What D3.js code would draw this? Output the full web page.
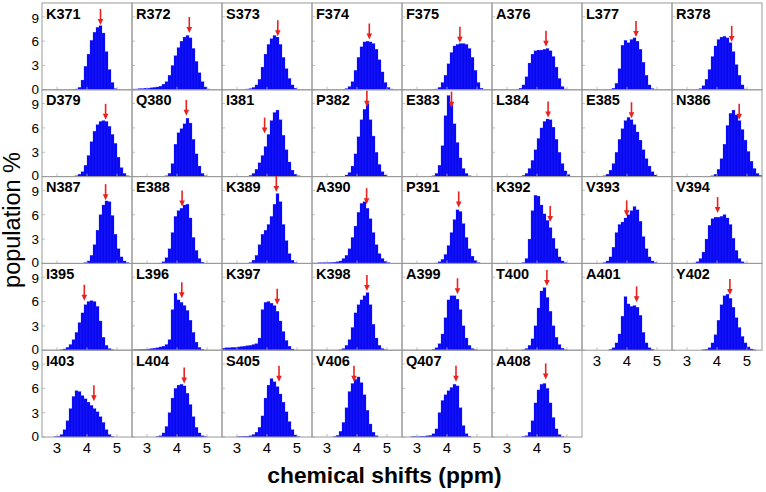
<!DOCTYPE html>
<html><head><meta charset="utf-8">
<script src="https://cdn.jsdelivr.net/npm/d3@7"></script>
<style>body{margin:0;background:#fff;}svg{display:block;}</style>
</head><body>
<svg id="chart" width="766" height="492"></svg>
<script>
const residues = ["K371","R372","S373","F374","F375","A376","L377","R378",
  "D379","Q380","I381","P382","E383","L384","E385","N386",
  "N387","E388","K389","A390","P391","K392","V393","V394",
  "I395","L396","K397","K398","A399","T400","A401","Y402",
  "I403","L404","S405","V406","Q407","A408"];
const arrowShift = [4.45,4.41,4.36,4.41,4.43,4.30,4.30,4.49,
  4.62,4.31,3.92,4.33,4.15,4.37,4.15,4.74,
  4.62,4.17,4.31,4.32,4.39,4.44,3.99,4.02,
  3.91,4.16,4.34,4.33,4.35,4.33,4.32,4.43,
  4.23,4.24,4.40,3.90,4.30,4.29];
const arrowPop = [8.0,7.0,6.6,6.2,5.8,5.3,6.5,5.9,
  7.0,7.5,5.3,8.6,8.5,7.3,7.2,7.0,
  7.8,7.0,8.8,7.3,6.9,5.1,5.8,6.2,
  6.1,6.4,5.6,7.3,6.9,7.9,5.9,6.8,
  4.4,6.6,6.8,6.8,6.8,7.1];
const binStart = [3.55,2.55,3.25,3.55,3.55,3.35,3.45,3.35,
  3.65,3.65,3.35,3.65,3.55,3.45,3.25,3.85,
  3.95,3.45,3.45,2.55,3.65,3.55,3.25,3.25,
  3.15,2.55,2.55,3.45,3.55,3.55,3.45,3.55,
  2.95,3.35,3.05,3.25,2.85,3.55];
const populations = [
  [0.05,0.1,0.3,1.2,2.9,4.4,6.1,7.1,7.7,7.9,7.0,4.7,2.5,0.9,0.15,0.05],
  [0.1,0.1,0.15,0.15,0.2,0.2,0.25,0.3,0.35,0.45,0.7,1.0,1.8,3.0,4.2,5.2,6.0,6.5,6.7,6.4,5.1,3.5,2.1,1.0,0.35,0.1],
  [0.05,0.1,0.15,0.3,0.6,1.3,2.8,4.4,5.6,6.3,6.7,6.5,5.6,4.0,2.6,1.4,0.6,0.2,0.05],
  [0.05,0.15,0.4,1.0,2.4,4.0,5.3,5.9,6.0,5.9,5.7,5.0,3.7,2.2,0.9,0.3,0.1],
  [0.05,0.1,0.3,0.9,1.8,3.2,4.6,5.4,5.6,5.7,5.7,5.6,5.1,4.0,2.4,0.9,0.2],
  [0.05,0.2,0.6,1.6,3.3,4.4,4.8,4.9,4.9,5.0,5.1,4.8,4.1,2.8,1.4,0.4,0.1],
  [0.05,0.2,0.8,2.6,5.5,6.1,5.8,6.2,6.4,6.0,5.0,3.4,1.8,0.6,0.15],
  [0.05,0.15,0.5,1.3,2.5,4.1,5.4,6.2,6.5,6.6,6.4,5.8,4.7,3.1,1.8,0.6,0.1],
  [0.1,0.3,0.6,1.4,2.6,4.3,5.6,6.4,6.8,6.9,6.8,6.2,5.2,4.1,2.4,1.1,0.4,0.1],
  [0.1,0.4,1.6,4.0,5.4,5.9,6.5,7.2,6.6,4.6,2.8,1.3,0.4,0.1],
  [0.05,0.15,0.4,0.9,1.7,2.6,3.7,5.2,6.9,7.9,8.2,7.0,5.1,3.3,1.8,0.8,0.3,0.1],
  [0.2,0.5,1.3,2.8,4.9,7.0,8.3,9.0,7.0,5.0,3.0,1.5,0.6,0.2,0.05],
  [0.1,0.4,1.4,3.8,7.5,10.0,8.8,6.5,4.2,2.3,1.0,0.4,0.1],
  [0.05,0.15,0.4,1.0,2.0,3.3,4.7,6.0,6.8,7.1,7.0,6.1,4.6,3.0,1.6,0.7,0.25,0.05],
  [0.1,0.3,0.8,1.6,3.0,4.6,5.9,6.9,7.3,7.0,6.4,5.5,4.5,3.3,2.2,1.3,0.6,0.2,0.05],
  [0.1,0.3,0.9,2.2,4.0,6.3,7.8,8.2,7.6,6.9,5.8,4.5,3.1,1.9,1.0,0.4,0.15],
  [0.1,0.3,1.0,2.3,4.1,6.0,7.2,7.7,7.6,5.9,3.6,1.8,0.8,0.3,0.1],
  [0.05,0.2,0.7,1.8,3.8,5.8,6.5,6.8,7.2,7.3,5.6,3.2,1.6,0.6,0.15],
  [0.1,0.4,1.0,2.3,3.6,4.1,4.8,5.8,7.3,8.6,7.6,4.8,2.8,1.2,0.4,0.1],
  [0.05,0.05,0.08,0.08,0.1,0.1,0.12,0.15,0.2,0.3,0.6,1.0,1.8,3.2,4.6,6.3,7.4,7.6,6.8,5.5,3.8,2.3,1.2,0.6,0.25,0.1],
  [0.05,0.2,0.5,1.1,2.2,3.8,5.4,6.6,6.4,4.9,3.2,1.8,0.9,0.35,0.1],
  [0.1,0.6,3.0,6.5,8.4,8.3,7.2,6.1,5.3,4.4,3.1,1.8,0.8,0.3,0.1],
  [0.1,0.3,0.8,2.0,3.8,4.8,5.1,5.6,6.0,6.5,7.0,6.6,5.2,3.3,1.8,0.8,0.3,0.1],
  [0.05,0.2,0.6,1.4,3.0,4.7,5.5,5.7,5.7,5.8,6.0,5.6,4.8,3.1,1.6,0.6,0.2,0.05],
  [0.05,0.15,0.35,0.7,1.3,2.2,3.4,4.6,5.6,6.0,6.1,6.0,5.4,3.6,1.6,0.6,0.2,0.05],
  [0.05,0.05,0.08,0.1,0.12,0.15,0.2,0.25,0.3,0.4,0.5,0.7,1.3,5.0,7.0,6.2,5.9,5.5,4.9,3.7,2.2,1.0,0.35,0.1],
  [0.25,0.3,0.3,0.35,0.35,0.4,0.45,0.5,0.55,0.6,0.7,0.8,1.5,5.0,5.9,6.0,5.8,5.5,4.8,3.6,2.3,1.2,0.5,0.15],
  [0.05,0.2,0.6,1.3,2.8,4.6,5.6,6.2,6.7,7.1,5.6,3.2,1.5,0.6,0.2,0.05],
  [0.1,0.3,0.8,2.0,4.0,6.2,6.7,6.7,6.3,5.0,3.0,1.5,0.6,0.2,0.05],
  [0.05,0.2,0.6,1.4,3.0,5.2,7.3,7.7,6.5,4.8,3.0,1.6,0.7,0.25,0.05],
  [0.1,0.3,0.9,2.0,4.2,6.6,5.7,5.4,5.5,5.3,4.3,2.2,0.9,0.3,0.1],
  [0.05,0.1,0.3,0.9,1.9,3.7,5.6,6.7,6.9,6.4,5.3,4.0,2.8,1.7,0.9,0.4,0.15,0.05],
  [0.05,0.1,0.3,0.9,2.0,3.5,5.0,5.7,5.6,5.1,4.7,4.3,3.9,3.5,3.1,2.5,1.8,0.9,0.3,0.05],
  [0.05,0.15,0.5,1.3,3.0,4.8,6.0,6.4,6.5,6.3,5.4,4.0,2.5,1.2,0.5,0.15,0.05],
  [0.05,0.05,0.1,0.1,0.15,0.3,0.6,1.2,2.6,4.8,6.4,7.2,6.8,6.2,5.3,4.3,3.1,1.9,0.9,0.25,0.05],
  [0.05,0.2,0.7,1.8,3.6,5.6,6.6,7.1,7.4,6.7,5.2,3.3,1.6,0.6,0.15],
  [0.05,0.05,0.05,0.1,0.1,0.15,0.2,0.4,1.0,3.0,4.5,5.2,5.7,6.1,6.5,6.3,3.6,1.4,0.4,0.1],
  [0.05,0.15,0.6,2.0,4.2,5.8,6.5,6.6,6.0,4.2,2.4,1.0,0.3,0.05]
];
const xTicks = [3, 4, 5];
const yTicks = [0, 3, 6, 9];
const binWidth = 0.1;
const xDomain = [2.5, 5.5];
const yDomain = [0, 10.7];
const xTitle = "chemical shifts (ppm)";
const yTitle = "population %";

const svg = d3.select("#chart");
const nCols = 8, left0 = 42, top0 = 3, pw = 90, ph = 86.8;
const font = "Arial, 'Liberation Sans', Helvetica, sans-serif";
const x = d3.scaleLinear().domain(xDomain).range([0, pw]);
const y = d3.scaleLinear().domain(yDomain).range([ph, 0]);
const barFill = "#0707f2", arrowColor = "#e8231f", borderColor = "#9a9a9a";

residues.forEach((name, i) => {
  const col = i % nCols, row = Math.floor(i / nCols);
  const g = svg.append("g").attr("transform", `translate(${left0 + col*pw},${top0 + row*ph})`);
  const vals = populations[i];
  const bins = vals.map((v, k) => ({x0: binStart[i] - binWidth/2 + k*binWidth, v}));
  g.selectAll("rect.bar").data(bins).join("rect")
    .attr("class","bar")
    .attr("x", d => x(d.x0))
    .attr("width", x(xDomain[0] + binWidth) - x(xDomain[0]))
    .attr("y", d => y(d.v))
    .attr("height", d => y(0) - y(d.v))
    .attr("fill", barFill)
    .attr("stroke", "#3d3dfa")
    .attr("stroke-width", 0.25);
  // inward ticks
  g.selectAll("line.yt").data(yTicks).join("line")
    .attr("x1", 0).attr("x2", 3).attr("y1", d => y(d)).attr("y2", d => y(d))
    .attr("stroke", "#b0b0b0").attr("stroke-width", 0.8);
  g.selectAll("line.xt").data(xTicks).join("line")
    .attr("x1", d => x(d)).attr("x2", d => x(d)).attr("y1", ph).attr("y2", ph - 3)
    .attr("stroke", "#b0b0b0").attr("stroke-width", 0.8);
  // border
  g.append("rect").attr("x", 0).attr("y", 0).attr("width", pw).attr("height", ph)
    .attr("fill", "none").attr("stroke", borderColor).attr("stroke-width", 1);
  // label
  g.append("text").attr("x", 4).attr("y", 15.5).text(name)
    .attr("font-family", font).attr("font-weight", "bold").attr("font-size", 14.5).attr("fill", "#000");
  // arrow
  const ax = x(arrowShift[i]), ay = y(arrowPop[i]);
  g.append("line").attr("x1", ax).attr("x2", ax).attr("y1", ay - 16).attr("y2", ay - 4)
    .attr("stroke", arrowColor).attr("stroke-width", 1.6);
  g.append("path").attr("d", `M${ax-2.8},${ay-6}L${ax+2.8},${ay-6}L${ax},${ay}Z`).attr("fill", arrowColor);
  // y tick labels
  if (col === 0) {
    g.selectAll("text.yl").data(yTicks).join("text")
      .attr("x", -3).attr("y", d => y(d) + (d === 0 ? -1 : (d === 9 ? 1 : 0))).attr("dy", "0.36em")
      .attr("text-anchor", "end").attr("font-family", font).attr("font-size", 13.5)
      .text(d => d);
  }
  // x tick labels when nothing below
  const below = i + nCols;
  if (below >= residues.length) {
    g.selectAll("text.xl").data(xTicks).join("text")
      .attr("x", d => x(d)).attr("y", ph + 16)
      .attr("text-anchor", "middle").attr("font-family", font).attr("font-size", 15)
      .text(d => d);
  }
});

svg.append("text").attr("x", 384.5).attr("y", 483).attr("text-anchor", "middle")
  .attr("font-family", font).attr("font-weight", "bold").attr("font-size", 22.8).text(xTitle);
svg.append("text").attr("transform", "translate(20,220) rotate(-90)").attr("text-anchor", "middle")
  .attr("font-family", font).attr("font-size", 23.5).text(yTitle);
</script>
</body></html>
